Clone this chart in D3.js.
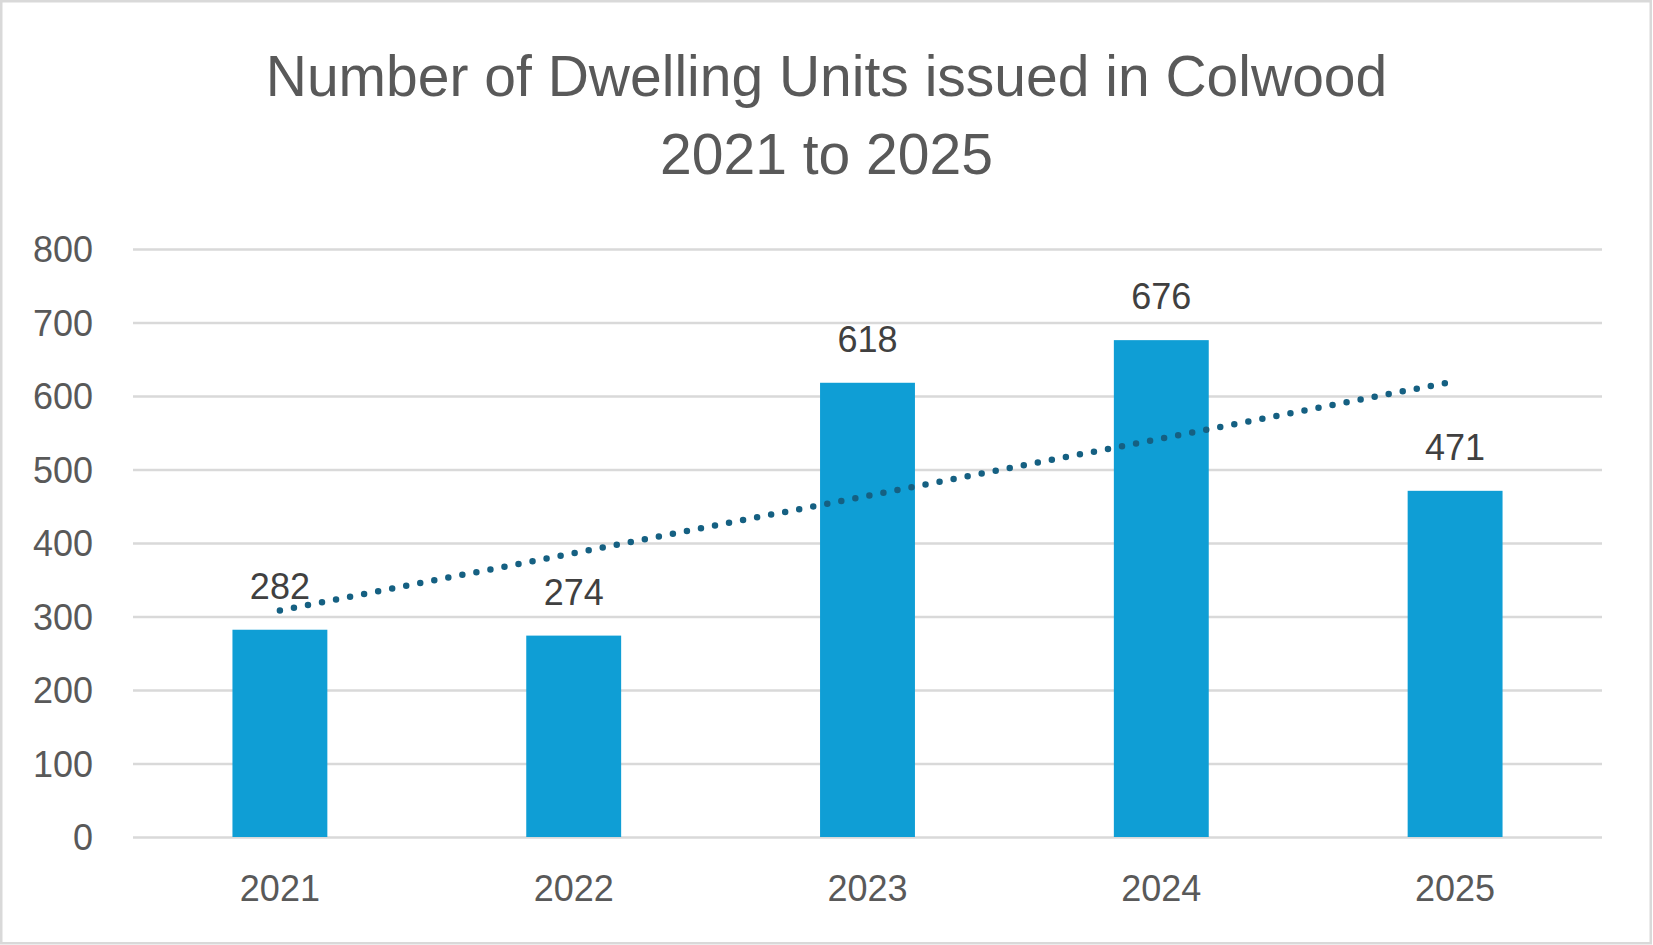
<!DOCTYPE html>
<html>
<head>
<meta charset="utf-8">
<script src="https://cdn.jsdelivr.net/npm/d3@7"></script>
<style>
  body { margin: 0; background: #fff; }
  svg { display: block; font-family: "Liberation Sans", Arial, sans-serif; }
</style>
</head>
<body>
<div id="chart"></div>
<script>
// chart data
var years = ["2021", "2022", "2023", "2024", "2025"];
var units = [282, 274, 618, 676, 471];
var yTicks = [0, 100, 200, 300, 400, 500, 600, 700, 800];
var titleLines = ["Number of Dwelling Units issued in Colwood", "2021 to 2025"];

var svgWidth = 1653;
var svgHeight = 945;

var margin = { top: 249, bottom: 108, left: 133, right: 51 };
var width = svgWidth - margin.left - margin.right;
var height = svgHeight - margin.top - margin.bottom;

var svg = d3.select("#chart")
    .append("svg")
    .attr("width", svgWidth)
    .attr("height", svgHeight);

// outer border
svg.append("rect")
    .attr("x", 1.25)
    .attr("y", 1.25)
    .attr("width", svgWidth - 3.5)
    .attr("height", svgHeight - 3)
    .attr("fill", "#fff")
    .attr("stroke", "#d9d9d9")
    .attr("stroke-width", 2.5);

// title
svg.selectAll(".title")
    .data(titleLines)
    .enter()
    .append("text")
    .attr("class", "title")
    .attr("x", svgWidth / 2)
    .attr("y", (d, i) => 96 + i * 78)
    .attr("text-anchor", "middle")
    .attr("font-size", "57px")
    .attr("fill", "#595959")
    .text(d => d);

var chartGroup = svg.append("g")
    .attr("transform", `translate(${margin.left}, ${margin.top})`);

// scales
var xScale = d3.scaleBand()
    .domain(years)
    .range([0, width])
    .paddingInner(0.677)
    .paddingOuter(0.3385);

var yScale = d3.scaleLinear()
    .domain([0, 800])
    .range([height, 0]);

// gridlines
var leftAxis = d3.axisLeft(yScale)
    .tickValues(yTicks)
    .tickSize(-width)
    .tickPadding(40);

var yAxisGroup = chartGroup.append("g").call(leftAxis);
yAxisGroup.select(".domain").remove();
yAxisGroup.selectAll("line")
    .attr("stroke", "#d9d9d9")
    .attr("stroke-width", 2.5);
yAxisGroup.selectAll("text")
    .attr("font-size", "36px")
    .attr("fill", "#595959")
    .attr("font-family", "Liberation Sans, Arial, sans-serif")
    .attr("dy", "0.36em");

// bottom axis labels
var bottomAxis = d3.axisBottom(xScale).tickSize(0).tickPadding(38);
var xAxisGroup = chartGroup.append("g")
    .attr("transform", `translate(0, ${height})`)
    .call(bottomAxis);
xAxisGroup.select(".domain").remove();
xAxisGroup.selectAll("text")
    .attr("font-size", "36px")
    .attr("fill", "#595959")
    .attr("font-family", "Liberation Sans, Arial, sans-serif");

// bars
chartGroup.selectAll(".bar")
    .data(units)
    .enter()
    .append("rect")
    .attr("class", "bar")
    .attr("x", (d, i) => xScale(years[i]))
    .attr("y", d => yScale(d))
    .attr("width", xScale.bandwidth())
    .attr("height", d => height - yScale(d))
    .attr("fill", "#0f9ed5");

// data labels
chartGroup.selectAll(".label")
    .data(units)
    .enter()
    .append("text")
    .attr("class", "label")
    .attr("x", (d, i) => xScale(years[i]) + xScale.bandwidth() / 2)
    .attr("y", d => yScale(d) - 31)
    .attr("text-anchor", "middle")
    .attr("font-size", "36px")
    .attr("fill", "#404040")
    .text(d => d);

// linear trendline (least squares over category index)
var n = units.length;
var xs = units.map((d, i) => i + 1);
var meanX = d3.mean(xs);
var meanY = d3.mean(units);
var slope = d3.sum(xs, (x, i) => (x - meanX) * (units[i] - meanY)) /
    d3.sum(xs, x => (x - meanX) * (x - meanX));
var intercept = meanY - slope * meanX;
var trend = [xs[0], xs[n - 1]].map(x => ({ year: years[x - 1], value: intercept + slope * x }));

var trendLine = d3.line()
    .x(d => xScale(d.year) + xScale.bandwidth() / 2)
    .y(d => yScale(d.value));

chartGroup.append("path")
    .datum(trend)
    .attr("d", trendLine)
    .attr("fill", "none")
    .attr("stroke", "#156082")
    .attr("stroke-width", 6.5)
    .attr("stroke-linecap", "round")
    .attr("stroke-dasharray", "0,14.3");
</script>
</body>
</html>
